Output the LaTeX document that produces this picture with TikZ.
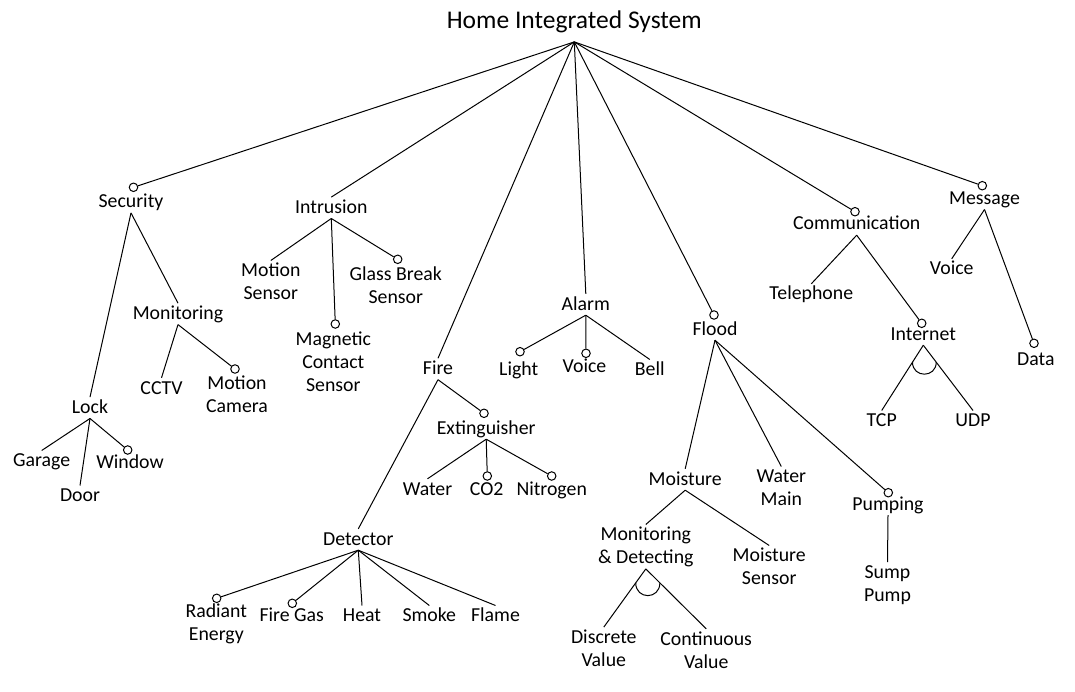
\documentclass[tikz,border=0pt]{standalone}
\usepackage{fontspec}
\setmainfont{Carlito}
\usetikzlibrary{calc}
\newcommand{\mlab}[1]{\begin{tabular}[t]{@{}c@{}}#1\end{tabular}}
\newcommand{\lblfont}{\fontsize{19.8}{23}\selectfont}
\newcommand{\ttlfont}{\fontsize{25.5}{30}\selectfont}
\tikzset{
  lbl/.style={anchor=base, inner sep=0pt, font=\lblfont, text height=16pt, text depth=5pt},
  two/.style={text depth=28pt},
  three/.style={text depth=51pt},
  opt/.style={circle, draw, fill=white, inner sep=0pt, minimum size=8.5pt, line width=1pt},
  conn/.style={line width=1pt, black},
}
\begin{document}
\begin{tikzpicture}[x=1pt, y=-1pt]
\useasboundingbox (0,0) rectangle (1075,692);
\fill[white] (0,0) rectangle (1075,692);

% root
\node[anchor=base, inner sep=0pt, font=\ttlfont, text depth=12.7pt] (root) at (574.3,29) {Home Integrated System};

% first level
\node[lbl] (sec) at (131,207.7) {\mlab{Security}};
\node[opt] (secC) at (133.5,187.3) {};
\node[lbl] (intr) at (331.3,213.3) {\mlab{Intrusion}};
\node[lbl] (fire) at (438,374.5) {\mlab{Fire}};
\node[lbl] (alarm) at (585.8,310) {\mlab{Alarm}};
\node[lbl] (flood) at (715,335) {\mlab{Flood}};
\node[opt] (floodC) at (714,315) {};
\node[lbl] (comm) at (856.7,230) {\mlab{Communication}};
\node[opt] (commC) at (855,211.7) {};
\node[lbl] (msg) at (984.5,204.3) {\mlab{Message}};
\node[opt] (msgC) at (982.3,185.7) {};

% security
\node[lbl] (lock) at (90,413.3) {\mlab{Lock}};
\node[lbl] (mon) at (178,319.4) {\mlab{Monitoring}};
\node[lbl] (garage) at (41.7,466.7) {\mlab{Garage}};
\node[lbl] (door) at (80,501.7) {\mlab{Door}};
\node[lbl] (window) at (130,468.3) {\mlab{Window}};
\node[opt] (windowC) at (127.7,450) {};
\node[lbl] (cctv) at (161.5,394) {\mlab{CCTV}};
\node[lbl,two] (mcam) at (237,389) {\mlab{Motion\\Camera}};
\node[opt] (mcamC) at (235,369) {};

% intrusion
\node[lbl,two] (msens) at (270.8,276.7) {\mlab{Motion\\Sensor}};
\node[lbl,three] (mag) at (333.3,345.7) {\mlab{Magnetic\\Contact\\Sensor}};
\node[opt] (magC) at (335.3,324) {};
\node[lbl,two] (glass) at (395.8,280) {\mlab{Glass Break\\Sensor}};
\node[opt] (glassC) at (397.7,259.3) {};

% fire
\node[lbl] (ext) at (486.2,434) {\mlab{Extinguisher}};
\node[opt] (extC) at (484,413.3) {};
\node[lbl] (det) at (358.3,545) {\mlab{Detector}};
\node[lbl] (water) at (427.5,495) {\mlab{Water}};
\node[lbl] (co2) at (486.7,495) {\mlab{CO2}};
\node[opt] (co2C) at (487.3,476) {};
\node[lbl] (nitro) at (551.7,495) {\mlab{Nitrogen}};
\node[opt] (nitroC) at (551.7,476) {};
\node[lbl,two] (rad) at (216.3,617.7) {\mlab{Radiant\\Energy}};
\node[opt] (radC) at (216.7,598.3) {};
\node[lbl] (fgas) at (291.7,621.7) {\mlab{Fire Gas}};
\node[opt] (fgasC) at (292.3,603.3) {};
\node[lbl] (heat) at (362,621.7) {\mlab{Heat}};
\node[lbl] (smoke) at (429.3,621.7) {\mlab{Smoke}};
\node[lbl] (flame) at (495.5,621.7) {\mlab{Flame}};

% alarm
\node[lbl] (light) at (518.7,375) {\mlab{Light}};
\node[opt] (lightC) at (520,351.7) {};
\node[lbl] (avoice) at (584.5,372.7) {\mlab{Voice}};
\node[opt] (avoiceC) at (586,353.3) {};
\node[lbl] (bell) at (649.8,375.7) {\mlab{Bell}};

% flood
\node[lbl] (moist) at (685.2,485) {\mlab{Moisture}};
\node[lbl,two] (wmain) at (781.3,482.7) {\mlab{Water\\Main}};
\node[lbl] (pump) at (888,510) {\mlab{Pumping}};
\node[opt] (pumpC) at (888.3,492.7) {};
\node[lbl,two] (md) at (645.8,540.7) {\mlab{Monitoring\\\& Detecting}};
\node[lbl,two] (msens2) at (769.2,561.7) {\mlab{Moisture\\Sensor}};
\node[lbl,two] (disc) at (603.8,643.3) {\mlab{Discrete\\Value}};
\node[lbl,two] (cont) at (706.2,645) {\mlab{Continuous\\Value}};
\node[lbl,two] (sump) at (887.5,578.3) {\mlab{Sump\\Pump}};

% communication
\node[lbl] (tel) at (811.3,300) {\mlab{Telephone}};
\node[lbl] (inet) at (923.3,340) {\mlab{Internet}};
\node[opt] (inetC) at (921.7,323.3) {};
\node[lbl] (tcp) at (881.7,426.7) {\mlab{TCP}};
\node[lbl] (udp) at (973,426.7) {\mlab{UDP}};

% message
\node[lbl] (mvoice) at (951.7,275) {\mlab{Voice}};
\node[lbl] (data) at (1035.8,365) {\mlab{Data}};
\node[opt] (dataC) at (1034,343.3) {};

% connectors
\begin{scope}[conn]
\draw (root.south) -- (secC);
\draw (root.south) -- (intr.north);
\draw (root.south) -- (fire.north);
\draw (root.south) -- (alarm.north);
\draw (root.south) -- (floodC);
\draw (root.south) -- (commC);
\draw (root.south) -- (msgC);

\draw (sec.south) -- (lock.north);
\draw (sec.south) -- (mon.north);
\draw (lock.south) -- (garage.north);
\draw (lock.south) -- (door.north);
\draw (lock.south) -- (windowC);
\draw (mon.south) -- (cctv.north);
\draw (mon.south) -- (mcamC);

\draw (intr.south) -- (msens.north);
\draw (intr.south) -- (magC);
\draw (intr.south) -- (glassC);

\draw (fire.south) -- (extC);
\draw (fire.south) -- (det.north);
\draw (ext.south) -- (water.north);
\draw (ext.south) -- (co2C);
\draw (ext.south) -- (nitroC);
\draw (det.south) -- (radC);
\draw (det.south) -- (fgasC);
\draw (det.south) -- (heat.north);
\draw (det.south) -- (smoke.north);
\draw (det.south) -- (flame.north);

\draw (alarm.south) -- (lightC);
\draw (alarm.south) -- (avoiceC);
\draw (alarm.south) -- (bell.north);

\draw (flood.south) -- (moist.north);
\draw (flood.south) -- (wmain.north);
\draw (flood.south) -- (pumpC);
\draw (moist.south) -- (md.north);
\draw (moist.south) -- (msens2.north);
\draw (md.south) -- (disc.north);
\draw (md.south) -- (cont.north);
\draw (pump.south) -- (sump.north);

\draw (comm.south) -- (tel.north);
\draw (comm.south) -- (inetC);
\draw (inet.south) -- (tcp.north);
\draw (inet.south) -- (udp.north);

\draw (msg.south) -- (mvoice.north);
\draw (msg.south) -- (dataC);

% alternative arcs
\coordinate (mdL) at ($(md.south)!0.24!(disc.north)$);
\coordinate (mdR) at ($(md.south)!0.233!(cont.north)$);
\draw (mdL) .. controls ($(mdL)+(0,17)$) and ($(mdR)+(0,17)$) .. (mdR);
\coordinate (inL) at ($(inet.south)!0.26!(tcp.north)$);
\coordinate (inR) at ($(inet.south)!0.26!(udp.north)$);
\draw (inL) .. controls ($(inL)+(0,16)$) and ($(inR)+(0,16)$) .. (inR);
\end{scope}
\end{tikzpicture}
\end{document}
